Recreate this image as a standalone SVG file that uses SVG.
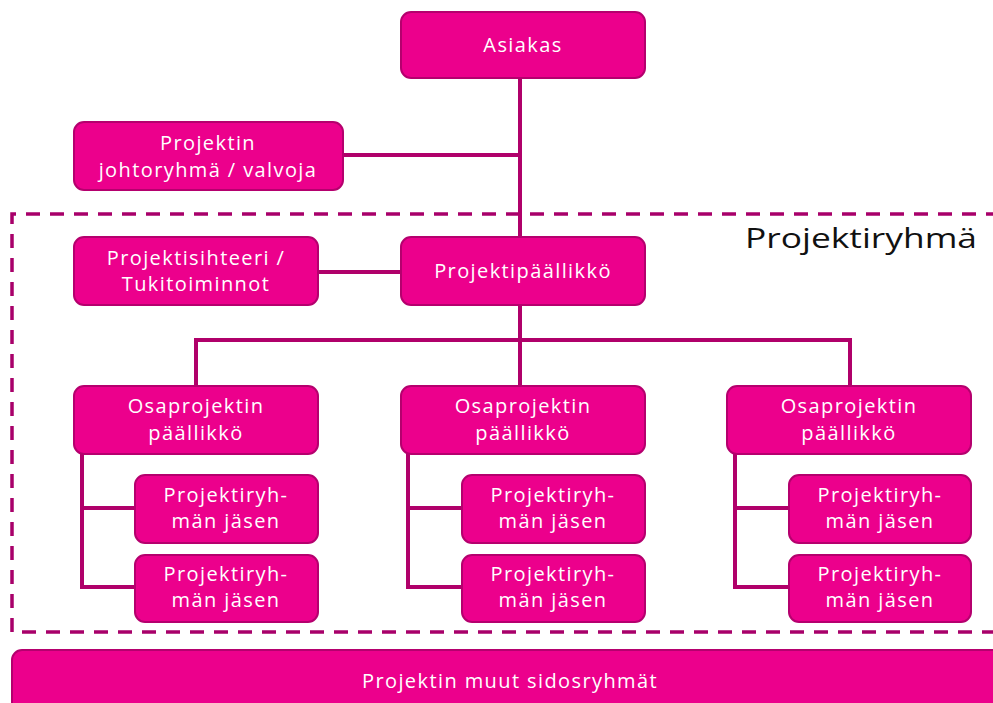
<svg xmlns="http://www.w3.org/2000/svg" width="993" height="703" viewBox="0 0 993 703">
<style>
.box{fill:#EC008C;stroke:#B5006E;stroke-width:2}
.t{fill:#fff;font-family:"Open Sans","DejaVu Sans",sans-serif;font-size:20px;letter-spacing:1.4px;text-anchor:middle}
.c{fill:none;stroke:#B0006A;stroke-width:4}
.d{fill:none;stroke:#A8006A;stroke-width:3.5;stroke-dasharray:14 10}
</style>
<rect width="993" height="703" fill="#fff"/>
<path class="d" d="M1000 214 H12 V632 H1000"/>
<text x="745" y="248" font-family="'Open Sans','DejaVu Sans',sans-serif" font-size="28" fill="#111" textLength="232" lengthAdjust="spacingAndGlyphs">Projektiryhmä</text>
<g id="connectors">
<path class="c" d="M520 78 V237"/>
<path class="c" d="M343 155 H520"/>
<path class="c" d="M318 272 H401"/>
<path class="c" d="M520 305 V340"/>
<path class="c" d="M196 386 V340 H850 V386"/>
<path class="c" d="M520 340 V386"/>
<path class="c" d="M82 454 V587 H135 M82 508 H135"/>
<path class="c" d="M408 454 V587 H462 M408 508 H462"/>
<path class="c" d="M735 454 V587 H789 M735 508 H789"/>
</g>
<g id="asiakas"><rect class="box" x="401" y="12" width="244" height="66" rx="10"/><text class="t" x="523" y="52">Asiakas</text></g>
<g id="johtoryhma"><rect class="box" x="74" y="122" width="269" height="68" rx="10"/><text class="t" x="208" y="150">Projektin</text><text class="t" x="208" y="177">johtoryhmä / valvoja</text></g>
<g id="sihteeri"><rect class="box" x="74" y="237" width="244" height="68" rx="10"/><text class="t" x="196" y="265">Projektisihteeri /</text><text class="t" x="196" y="291">Tukitoiminnot</text></g>
<g id="pp"><rect class="box" x="401" y="237" width="244" height="68" rx="10"/><text class="t" x="523" y="278">Projektipäällikkö</text></g>
<g id="osa1"><rect class="box" x="74" y="386" width="244" height="68" rx="10"/><text class="t" x="196" y="413">Osaprojektin</text><text class="t" x="196" y="440">päällikkö</text></g>
<g id="osa2"><rect class="box" x="401" y="386" width="244" height="68" rx="10"/><text class="t" x="523" y="413">Osaprojektin</text><text class="t" x="523" y="440">päällikkö</text></g>
<g id="osa3"><rect class="box" x="727" y="386" width="244" height="68" rx="10"/><text class="t" x="849" y="413">Osaprojektin</text><text class="t" x="849" y="440">päällikkö</text></g>
<g id="j1a"><rect class="box" x="135" y="475" width="183" height="68" rx="10"/><text class="t" x="226" y="502">Projektiryh-</text><text class="t" x="226" y="528">män jäsen</text></g>
<g id="j1b"><rect class="box" x="135" y="555" width="183" height="67" rx="10"/><text class="t" x="226" y="581">Projektiryh-</text><text class="t" x="226" y="607">män jäsen</text></g>
<g id="j2a"><rect class="box" x="462" y="475" width="183" height="68" rx="10"/><text class="t" x="553" y="502">Projektiryh-</text><text class="t" x="553" y="528">män jäsen</text></g>
<g id="j2b"><rect class="box" x="462" y="555" width="183" height="67" rx="10"/><text class="t" x="553" y="581">Projektiryh-</text><text class="t" x="553" y="607">män jäsen</text></g>
<g id="j3a"><rect class="box" x="789" y="475" width="182" height="68" rx="10"/><text class="t" x="880" y="502">Projektiryh-</text><text class="t" x="880" y="528">män jäsen</text></g>
<g id="j3b"><rect class="box" x="789" y="555" width="182" height="67" rx="10"/><text class="t" x="880" y="581">Projektiryh-</text><text class="t" x="880" y="607">män jäsen</text></g>
<g id="sidos"><rect class="box" x="12" y="650" width="1000" height="70" rx="10"/><text class="t" x="510" y="688" letter-spacing="0.8">Projektin muut sidosryhmät</text></g>
</svg>
